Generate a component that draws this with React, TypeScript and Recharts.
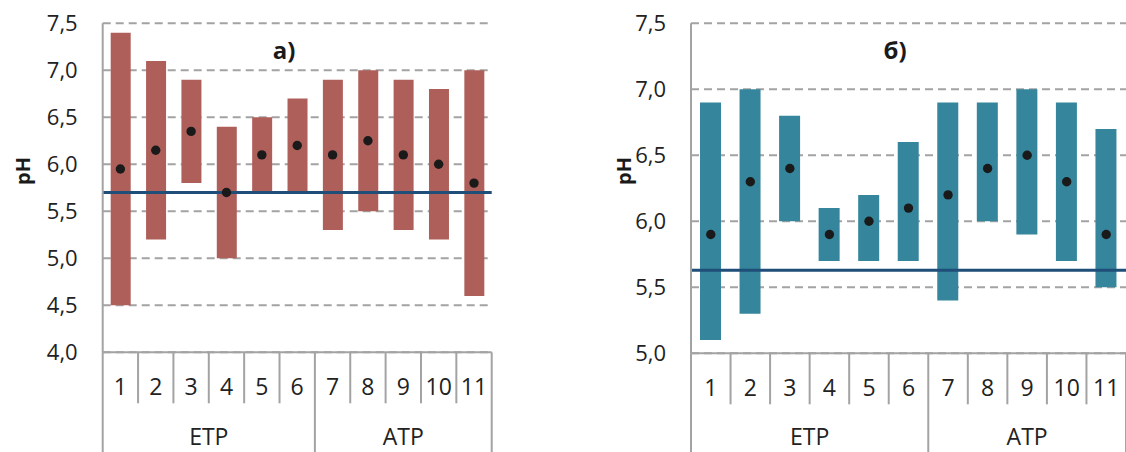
import { Bar, CartesianGrid, ComposedChart, Line, ReferenceLine, XAxis, YAxis } from 'recharts'

// sample numbers and their groups
const CATEGORIES = ['1', '2', '3', '4', '5', '6', '7', '8', '9', '10', '11']
const GROUPS = [
  { label: 'ETP', start: 0, count: 6 },
  { label: 'ATP', start: 6, count: 5 },
]

// panel a)
const A_MIN = [4.5, 5.2, 5.8, 5.0, 5.7, 5.7, 5.3, 5.5, 5.3, 5.2, 4.6]
const A_MAX = [7.4, 7.1, 6.9, 6.4, 6.5, 6.7, 6.9, 7.0, 6.9, 6.8, 7.0]
const A_MEAN = [5.95, 6.15, 6.35, 5.7, 6.1, 6.2, 6.1, 6.25, 6.1, 6.0, 5.8]
const A_REF = 5.7
const A_TICKS = [4.0, 4.5, 5.0, 5.5, 6.0, 6.5, 7.0, 7.5]

// panel б)
const B_MIN = [5.1, 5.3, 6.0, 5.7, 5.7, 5.7, 5.4, 6.0, 5.9, 5.7, 5.5]
const B_MAX = [6.9, 7.0, 6.8, 6.1, 6.2, 6.6, 6.9, 6.9, 7.0, 6.9, 6.7]
const B_MEAN = [5.9, 6.3, 6.4, 5.9, 6.0, 6.1, 6.2, 6.4, 6.5, 6.3, 5.9]
const B_REF = 5.63
const B_TICKS = [5.0, 5.5, 6.0, 6.5, 7.0, 7.5]

const FONT = '"Open Sans", sans-serif'
const AXIS_GRAY = '#a3a3a3'
const TEXT = '#222'
const GROUP_LABEL_Y = 436

const build = (min: number[], max: number[], mean: number[]) =>
  CATEGORIES.map((c, i) => ({ cat: c, range: [min[i], max[i]], mean: mean[i] }))

const fmt = (v: number) => v.toFixed(1).replace('.', ',')

// two-level category axis: sample numbers with separators, then ETP / ATP groups
function makeTick(band: number) {
  return (props: any) => {
    const { x, y, payload, index } = props
    const left = x - band / 2
    const group = GROUPS.find((g) => g.start === index)
    const last = index === CATEGORIES.length - 1
    return (
      <g>
        <line x1={left} x2={left} y1={y} y2={group ? y + 102 : y + 51} stroke={AXIS_GRAY} strokeWidth={2} />
        {last && (
          <line x1={x + band / 2} x2={x + band / 2} y1={y} y2={y + 102} stroke={AXIS_GRAY} strokeWidth={2} />
        )}
        <text x={x} y={y + 34} textAnchor="middle" dominantBaseline="central" fontSize={23} fill={TEXT} fontFamily={FONT}>
          {payload.value}
        </text>
        {group && (
          <text
            x={left + (group.count * band) / 2}
            y={GROUP_LABEL_Y}
            textAnchor="middle"
            dominantBaseline="central"
            fontSize={23}
            fill={TEXT}
            fontFamily={FONT}
          >
            {group.label}
          </text>
        )}
      </g>
    )
  }
}

interface PanelProps {
  data: { cat: string; range: number[]; mean: number }[]
  ticks: number[]
  refValue: number
  color: string
  title: string
  titleX: number
  phX: number
  axisWidth: number
  rightMargin: number
  xAxisHeight: number
  barSize: number
}

function Panel(p: PanelProps) {
  const width = 560
  const plotW = width - p.axisWidth - p.rightMargin
  const band = plotW / CATEGORIES.length
  return (
    <ComposedChart
      width={width}
      height={452}
      data={p.data}
      margin={{ top: 23.3, right: p.rightMargin, bottom: 0, left: 0 }}
      barCategoryGap={0}
    >
      <CartesianGrid vertical={false} stroke={AXIS_GRAY} strokeWidth={2} strokeDasharray="8 5" />
      <XAxis
        dataKey="cat"
        interval={0}
        height={p.xAxisHeight}
        tickSize={0}
        tickMargin={0}
        axisLine={{ stroke: AXIS_GRAY, strokeWidth: 2 }}
        tickLine={false}
        tick={makeTick(band)}
      />
      <YAxis
        width={p.axisWidth}
        domain={[p.ticks[0], p.ticks[p.ticks.length - 1]]}
        ticks={p.ticks}
        tickFormatter={fmt}
        tickSize={0}
        tickMargin={25}
        tickLine={false}
        axisLine={{ stroke: AXIS_GRAY, strokeWidth: 2 }}
        tick={{ fontSize: 22, fill: TEXT, fontFamily: FONT }}
      />
      <Bar dataKey="range" fill={p.color} barSize={p.barSize} isAnimationActive={false} />
      <ReferenceLine y={p.refValue} stroke="#1f4e79" strokeWidth={3} />
      <Line
        dataKey="mean"
        stroke="none"
        strokeWidth={0}
        dot={{ r: 4.7, fill: '#1a1a1a', stroke: '#1a1a1a', strokeWidth: 0 }}
        activeDot={false}
        isAnimationActive={false}
      />
      <text x={p.titleX} y={49} textAnchor="middle" dominantBaseline="central" fontSize={24} fontWeight="bold" fill="#1a1a1a" fontFamily={FONT}>
        {p.title}
      </text>
      <text
        x={p.phX}
        y={171}
        transform={`rotate(-90 ${p.phX} 171)`}
        textAnchor="middle"
        dominantBaseline="central"
        fontSize={20}
        fontWeight="bold"
        fill="#1a1a1a"
        fontFamily={FONT}
      >
        pH
      </text>
    </ComposedChart>
  )
}

export default function App() {
  return (
    <div style={{ position: 'absolute', left: 0, top: 0, width: 1126, height: 452, background: '#fff', overflow: 'hidden' }}>
      <div style={{ position: 'absolute', left: 0, top: 0 }}>
        <Panel
          data={build(A_MIN, A_MAX, A_MEAN)}
          ticks={A_TICKS}
          refValue={A_REF}
          color="#af5f5a"
          title="а)"
          titleX={284}
          phX={22}
          axisWidth={102.7}
          rightMargin={68.3}
          xAxisHeight={99.7}
          barSize={20}
        />
      </div>
      <div style={{ position: 'absolute', left: 566, top: 0 }}>
        <Panel
          data={build(B_MIN, B_MAX, B_MEAN)}
          ticks={B_TICKS}
          refValue={B_REF}
          color="#35869c"
          title="б)"
          titleX={329}
          phX={57}
          axisWidth={125}
          rightMargin={0}
          xAxisHeight={98.7}
          barSize={21}
        />
      </div>
    </div>
  )
}
